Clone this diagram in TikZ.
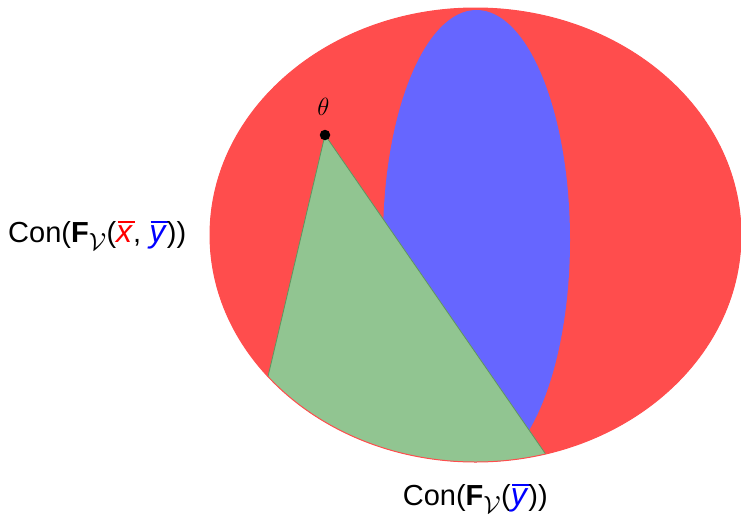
\documentclass[tikz,border=0pt]{standalone}
\usepackage{fontspec}
\newfontfamily\labelfont{Liberation Sans}
\usetikzlibrary{calc}
\DeclareMathSizes{29}{29}{24}{19}
\definecolor{cRed}{RGB}{255,77,77}
\definecolor{cBlue}{RGB}{102,102,255}
\definecolor{cGreen}{RGB}{145,197,145}
\definecolor{cGreenEdge}{RGB}{95,150,95}
\definecolor{lblRed}{RGB}{255,0,0}
\definecolor{lblBlue}{RGB}{0,0,255}
\newcommand{\sbar}[1]{{\setbox0=\hbox{\fontsize{32}{34}\selectfont\textit{#1}}\rlap{\hspace{0.05em}\rule[0.66em]{\wd0}{0.065em}}\box0}}
\begin{document}
\begin{tikzpicture}[x=1pt,y=-1pt,
  lbl/.style={inner sep=0pt, font=\labelfont\fontsize{29}{34}\selectfont},
  bigellipse/.style={x radius=265.5, y radius=227},
  dotnode/.style={circle, fill=black, inner sep=0pt, minimum size=10.5pt}]
\useasboundingbox (0,0) rectangle (741,514);
\coordinate (rc) at (475.5,235);
\coordinate (bc) at (476.5,240);
\coordinate (apex) at (325,135);
\coordinate (gl) at (268,376.5);
\coordinate (gr) at (545.6,454);
\coordinate (glx) at ($(apex)!1.3!(gl)$);
\coordinate (grx) at ($(apex)!1.3!(gr)$);
\fill[cRed] (rc) ellipse [bigellipse];
\begin{scope}
  \clip (rc) ellipse [bigellipse];
  \fill[cBlue] (bc) ellipse [x radius=93.5, y radius=230];
  \fill[cGreen] (apex) -- (glx) -- (grx) -- cycle;
  \draw[cGreenEdge, line width=0.8pt] (glx) -- (apex) -- (grx);
\end{scope}
\draw[cRed, line width=1pt] (rc) ellipse [bigellipse];
\node[dotnode] (thetadot) at (apex) {};
\node[inner sep=0pt, font=\fontsize{28}{32}\selectfont] (theta) at (323.5,106.5) {$\theta$};
\node[lbl, anchor=base west] (lblL) at (8,242.5)
  {Con(\textbf{F}$_{\mathcal{V}}$(\textcolor{lblRed}{\sbar{x}}, \textcolor{lblBlue}{\sbar{y}}))};
\node[lbl, anchor=base] (lblB) at (475.3,505)
  {Con(\textbf{F}$_{\mathcal{V}}$(\textcolor{lblBlue}{\sbar{y}}))};
\end{tikzpicture}
\end{document}
